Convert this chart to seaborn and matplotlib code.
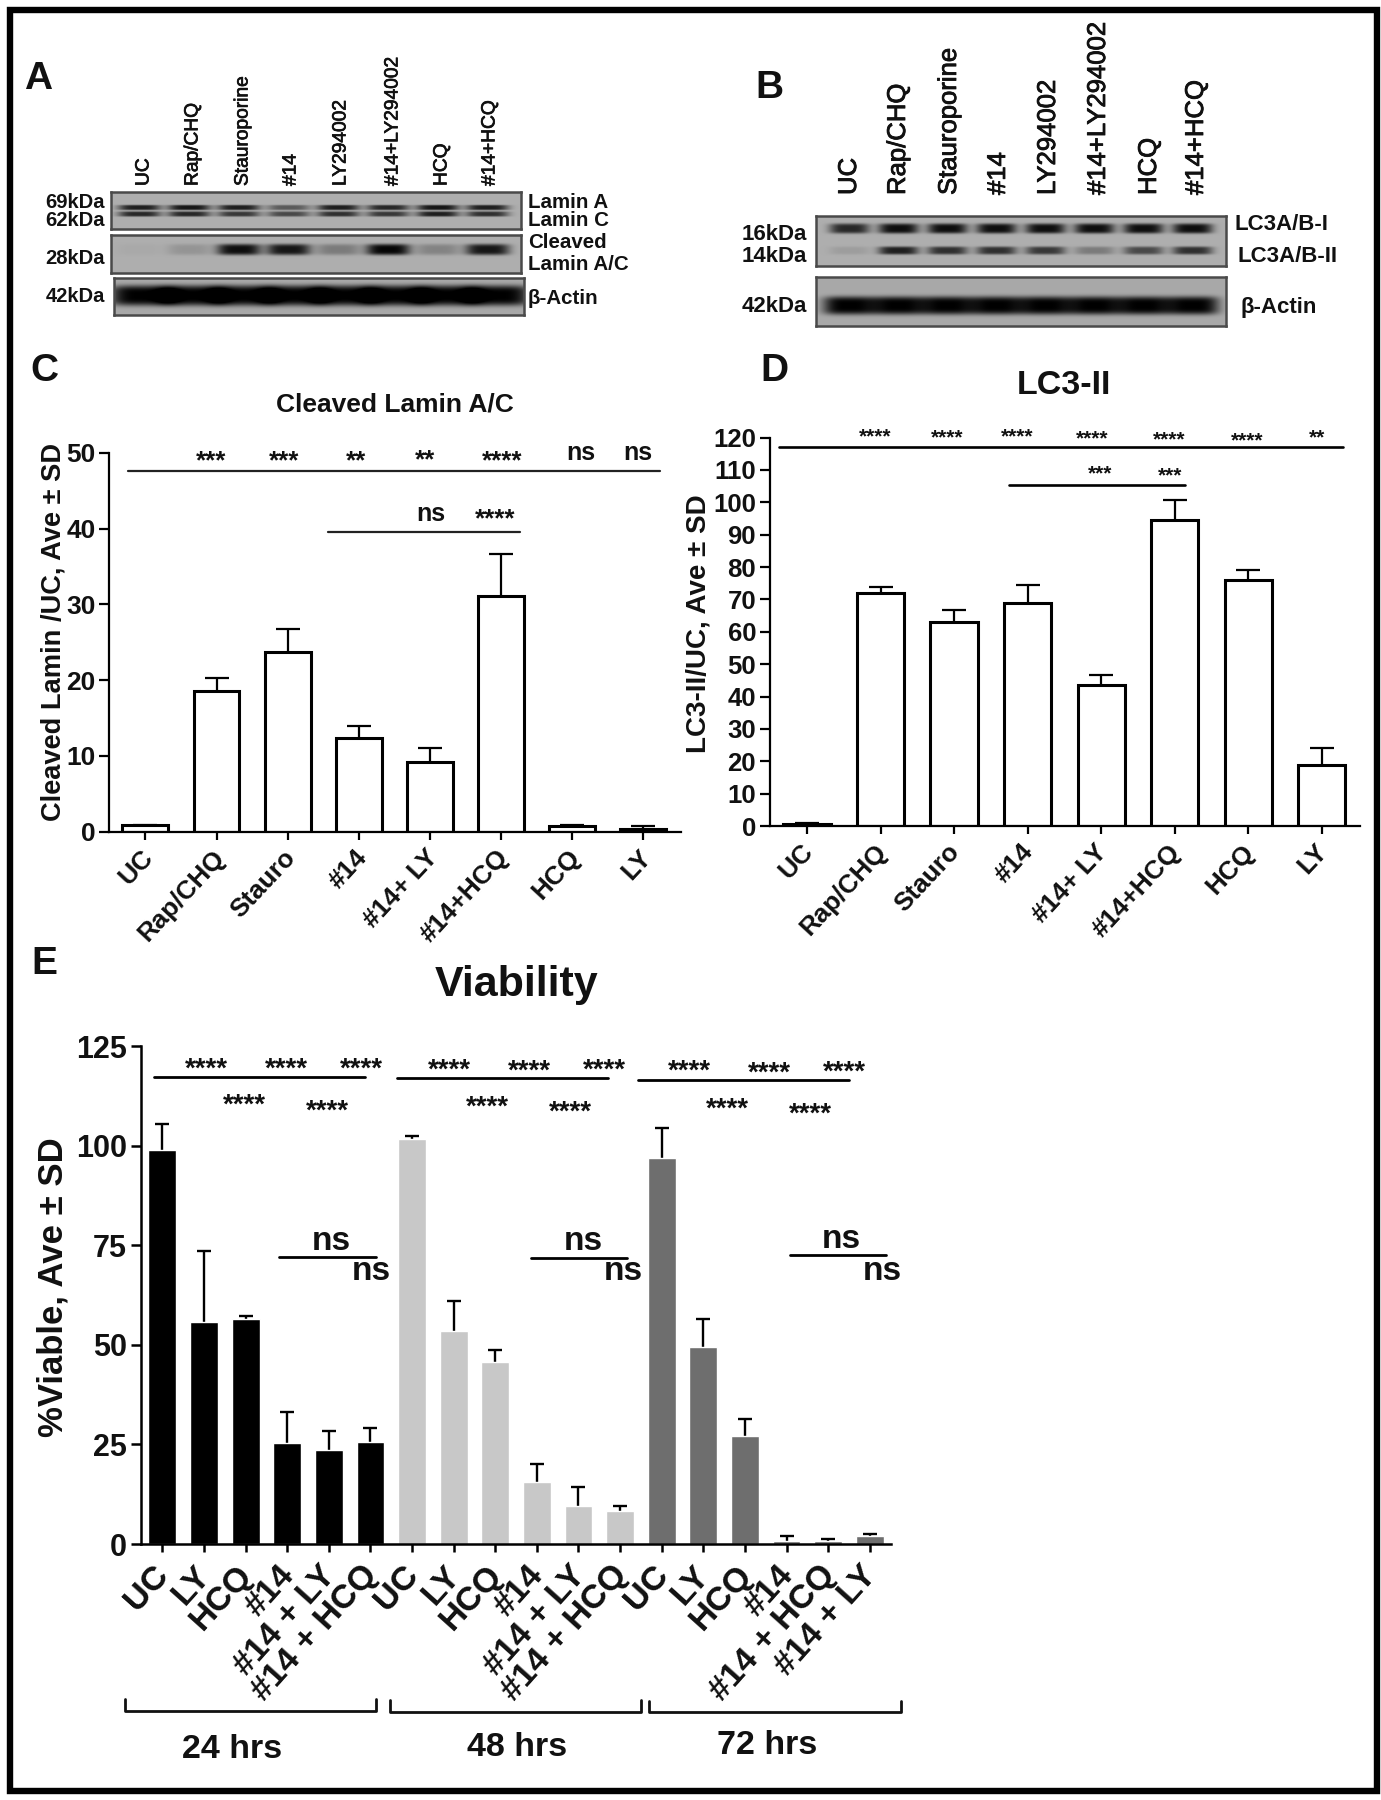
import numpy as np
import pandas as pd
import seaborn as sns
import matplotlib.pyplot as plt
import matplotlib.patheffects as pe
from matplotlib.patches import Rectangle
from matplotlib.transforms import ScaledTranslation

W, H = 1381, 1800

# panel C
cl_labels = ['UC', 'Rap/CHQ', 'Stauro', '#14', '#14+ LY', '#14+HCQ', 'HCQ', 'LY']
cl_mean = [0.9, 18.5, 23.7, 12.3, 9.2, 31.1, 0.7, 0.4]
cl_top = [0.9, 20.3, 26.8, 13.9, 11.0, 36.7, 0.9, 0.7]

# panel D
lc3_labels = ['UC', 'Rap/CHQ', 'Stauro', '#14', '#14+ LY', '#14+HCQ', 'HCQ', 'LY']
lc3_mean = [0.7, 72, 63, 69, 43.5, 94.5, 76, 19]
lc3_top = [0.9, 73.8, 66.8, 74.5, 46.8, 100.8, 79.2, 24]

# panel E
via_labels = ['UC', 'LY', 'HCQ', '#14', '#14 + LY', '#14 + HCQ',
              'UC', 'LY', 'HCQ', '#14', '#14 + LY', '#14 + HCQ',
              'UC', 'LY', 'HCQ', '#14', '#14 + HCQ', '#14 + LY']
via_group = ['24 hrs'] * 6 + ['48 hrs'] * 6 + ['72 hrs'] * 6
via_mean = [99, 55.7, 56.4, 25.3, 23.6, 25.5,
            101.7, 53.5, 45.7, 15.6, 9.5, 8.4,
            97, 49.5, 27, 0.8, 0.7, 1.9]
via_top = [105.3, 73.5, 57.2, 33.2, 28.3, 29.2,
           102.4, 61, 48.7, 20.2, 14.4, 9.6,
           104.5, 56.5, 31.5, 2.1, 1.3, 2.6]

# blot band darkness per lane, 0 = nothing, 1 = black
lamin_a = [0.85, 0.9, 0.85, 0.5, 0.85, 0.8, 0.9, 0.85]
lamin_c = [0.8, 0.8, 0.7, 0.6, 0.75, 0.7, 0.85, 0.75]
cleaved = [0.03, 0.15, 0.95, 0.9, 0.3, 1.0, 0.25, 0.9]
actin_a = [1, 1, 1, 1, 1, 1, 1, 1]
lc3_i = [0.8, 0.95, 0.95, 0.95, 0.95, 0.95, 0.95, 0.95]
lc3_ii = [0.1, 0.85, 0.75, 0.75, 0.7, 0.3, 0.6, 0.75]
actin_b = [1, 1, 1, 1, 1, 1, 1, 1]

blot_a_lanes = ['UC', 'Rap/CHQ', 'Stauroporine', '#14', 'LY294002', '#14+LY294002', 'HCQ', '#14+HCQ']

sns.set_theme(style='ticks')
plt.rcParams['font.family'] = ['Liberation Sans', 'DejaVu Sans']
plt.rcParams['font.weight'] = 'bold'
plt.rcParams['axes.labelweight'] = 'bold'

fig = plt.figure(figsize=(W / 100, H / 100), dpi=100, facecolor='white')


def px_ax(x0, y0, x1, y1):
    return fig.add_axes([x0 / W, 1 - y1 / H, (x1 - x0) / W, (y1 - y0) / H])


def blot(x0, y0, x1, y1, lanes, bands, half_w, back=0.68):
    # bands: (row y in px, darkness per lane, half height)
    ys, xs = np.mgrid[y0:y1, x0:x1]
    grid = np.full(xs.shape, back, dtype=float)
    for row_y, dark, half_h in bands:
        for cx, d in zip(lanes, dark):
            shape = np.exp(-((xs - cx) / half_w) ** 4 - ((ys - row_y) / half_h) ** 4)
            grid -= shape * d * 0.66
    ax = px_ax(x0, y0, x1, y1)
    sns.heatmap(np.clip(grid, 0, 1), cmap='gray', vmin=0, vmax=1, cbar=False,
                xticklabels=False, yticklabels=False, ax=ax)
    for s in ax.spines.values():
        s.set_visible(True)
        s.set_color('#4a4a4a')
        s.set_linewidth(1.8)
    return ax


def upper_err(ax, means, tops, cap, lw):
    low = np.zeros(len(means))
    high = np.array(tops) - np.array(means)
    eb = ax.errorbar(range(len(means)), means, yerr=[low, high], fmt='none',
                     ecolor='black', elinewidth=lw, capsize=cap, capthick=lw, zorder=1)
    eb[1][0].remove()


def style_axes(ax, labels, xlim, ylim, yticks, tick_fs, label_fs, rot, shift, lw=1.6):
    ax.set_xlim(*xlim)
    ax.set_ylim(*ylim)
    ax.set_yticks(yticks)
    ax.set_xticks(range(len(labels)))
    ax.set_xticklabels(labels, rotation=rot, ha='right', rotation_mode='anchor', fontsize=label_fs)
    ax.tick_params(axis='y', labelsize=tick_fs, width=lw, length=7, pad=3, color='black')
    ax.tick_params(axis='x', width=lw, length=6, pad=6, color='black')
    ax.set_xlabel('')
    ax.set_ylabel('')
    sns.despine(ax=ax)
    for s in ['left', 'bottom']:
        ax.spines[s].set_linewidth(lw)
        ax.spines[s].set_color('black')
    for t in ax.get_xticklabels() + ax.get_yticklabels():
        t.set_color('#111111')
        t.set_fontweight('bold')
    # labels in the figure sit a bit left of their ticks
    off = ScaledTranslation(shift[0] / 100, shift[1] / 100, fig.dpi_scale_trans)
    for t in ax.get_xticklabels():
        t.set_transform(t.get_transform() + off)


# blots A
lanes_a = np.linspace(139, 487, 8)
blot(111, 192, 521, 229, lanes_a, [(207, lamin_a, 2.6), (213.5, lamin_c, 2.6)], 21)
blot(111, 235, 521, 273, lanes_a, [(249, cleaved, 5.5)], 22)
blot(114, 278, 524, 315, np.linspace(142, 497, 8), [(295, actin_a, 10)], 32, back=0.66)

# blots B
lanes_b = np.linspace(849, 1192, 8)
blot(816, 216, 1226, 266, lanes_b, [(228, lc3_i, 5), (250, lc3_ii, 4)], 20)
blot(816, 277, 1226, 326, lanes_b, [(305, actin_b, 9)], 26, back=0.66)

# panel C
ax_c = px_ax(109.4, 452.8, 681, 831.6)
sns.barplot(x=cl_labels, y=cl_mean, color='white', edgecolor='black', linewidth=2.2,
            width=0.645, saturation=1, errorbar=None, ax=ax_c, zorder=2)
upper_err(ax_c, cl_mean, cl_top, 8.3, 1.6)
style_axes(ax_c, cl_labels, (-0.506, 7.53), (0, 50), range(0, 51, 10), 19, 18.8, 47, (-5, 3))
ax_c.plot([-0.24, 7.24], [47.66, 47.66], color='#222222', lw=1.6, clip_on=False)
ax_c.plot([2.57, 5.27], [39.6, 39.6], color='#222222', lw=1.6, clip_on=False)

# panel D
ax_d = px_ax(770, 437.6, 1360, 826)
sns.barplot(x=lc3_labels, y=lc3_mean, color='white', edgecolor='black', linewidth=2.2,
            width=0.643, saturation=1, errorbar=None, ax=ax_d, zorder=2)
upper_err(ax_d, lc3_mean, lc3_top, 8.7, 1.6)
style_axes(ax_d, lc3_labels, (-0.503, 7.52), (0, 120), range(0, 121, 10), 18.5, 18.8, 47, (-7, 3))
ax_d.plot([-0.38, 7.29], [117, 117], color='black', lw=1.9, clip_on=False)
ax_d.plot([2.75, 5.14], [105.5, 105.5], color='black', lw=1.9, clip_on=False)

# panel E
ax_e = px_ax(141, 1046, 891, 1544)
df = pd.DataFrame({'pos': range(18), 'viable': via_mean, 'time': via_group})
sns.barplot(data=df, x='pos', y='viable', hue='time', palette=['#000000', '#c8c8c8', '#6e6e6e'],
            dodge=False, width=0.67, saturation=1, errorbar=None, legend=False, ax=ax_e, zorder=2)
upper_err(ax_e, via_mean, via_top, 4.7, 1.7)
style_axes(ax_e, via_labels, (-0.514, 17.51), (0, 125), range(0, 126, 25), 22, 24.5, 48, (-10, 1), lw=1.8)
for a, b, y in [(-0.19, 4.88, 117.3), (5.64, 10.71, 117), (11.42, 16.49, 116.5),
                (2.8, 5.13, 72.1), (8.86, 11.17, 71.9), (15.09, 17.4, 72.5)]:
    ax_e.plot([a, b], [y, y], color='black', lw=2, clip_on=False)

# everything drawn in picture pixels goes on one overlay
ov = fig.add_axes([0, 0, 1, 1], facecolor='none', zorder=10)
ov.set_xlim(0, W)
ov.set_ylim(H, 0)
ov.axis('off')
ov.add_patch(Rectangle((10, 9.5), 1367, 1781.5, fill=False, ec='black', lw=4.6))


def txt(x, y, s, fs, ha='center', va='center', rot=0, weight='bold', color='#111111', heavy=0):
    t = ov.text(x, y, s, fontsize=fs, ha=ha, va=va, rotation=rot, fontweight=weight, color=color)
    if heavy:
        t.set_path_effects([pe.withStroke(linewidth=heavy, foreground=color)])


def stars(x, y, s, fs):
    # asterisks sit high in the font, so place by baseline
    ov.text(x, y + 0.41 * fs / 0.72, s, fontsize=fs, ha='center', va='baseline',
            fontweight='bold', color='#111111')


for s, x, y in [('A', 38, 79), ('B', 769, 88), ('C', 44, 371), ('D', 774, 371), ('E', 44, 964)]:
    txt(x, y, s, 28)

# blot A text
for s, x in zip(blot_a_lanes, [144, 193, 243, 291, 341, 393, 442, 490]):
    txt(x, 186, s, 13.8, va='bottom', rot=90, weight='normal', heavy=0.5)
for s, y in [('69kDa', 202), ('62kDa', 221), ('28kDa', 258), ('42kDa', 296)]:
    txt(105, y, s, 14.5, ha='right')
for s, y in [('Lamin A', 202), ('Lamin C', 221), ('Cleaved', 243), ('Lamin A/C', 265), ('β-Actin', 298)]:
    txt(528, y, s, 14.8, ha='left')

# blot B text
for s, x in zip(blot_a_lanes, [849, 898, 949, 998, 1048, 1098, 1149, 1196]):
    txt(x, 195, s, 18.5, va='bottom', rot=90, weight='normal', heavy=0.6)
for s, y in [('16kDa', 234), ('14kDa', 256), ('42kDa', 307)]:
    txt(807, y, s, 16, ha='right')
txt(1235, 224, 'LC3A/B-I', 16, ha='left')
txt(1238, 256, 'LC3A/B-II', 16, ha='left')
txt(1241, 307, 'β-Actin', 16, ha='left')

# titles and y labels
txt(395, 404, 'Cleaved Lamin A/C', 19)
txt(1064, 385, 'LC3-II', 24.5)
txt(517, 985, 'Viability', 31)
txt(54, 632, 'Cleaved Lamin /UC, Ave ± SD', 19.6, rot=90)
txt(699, 624, 'LC3-II/UC, Ave ± SD', 20, rot=90)
txt(53.5, 1287, '%Viable, Ave ± SD', 25, rot=90)

# panel C marks
for x, y, s in [(211, 458, '***'), (284, 458, '***'), (356, 458, '**'), (425, 457, '**'),
                (502, 458, '****'), (495.5, 516, '****')]:
    stars(x, y, s, 18.5)
for x, y in [(581, 453), (637.5, 453), (431, 514)]:
    txt(x, y, 'ns', 18)

# panel D marks
for x, y, s in [(875.5, 434, '****'), (947.6, 435, '****'), (1017.4, 434, '****'), (1092, 436, '****'),
                (1169.6, 437, '****'), (1246.7, 437.6, '****'), (1317.4, 435, '**'),
                (1100, 471.3, '***'), (1170.5, 472.6, '***')]:
    stars(x, y, s, 15)

# panel E marks
for x, y in [(206, 1065), (286, 1065), (361, 1065), (244, 1101), (327, 1107),
             (449, 1066), (529, 1067), (604, 1066), (487, 1103), (570, 1108),
             (689, 1067), (769, 1069), (844, 1068), (727, 1105), (810, 1110)]:
    stars(x, y, '****', 20)
for x, y in [(331.5, 1242), (371.5, 1272), (583, 1242), (623, 1272), (841, 1240), (882, 1271)]:
    txt(x, y, 'ns', 24)

# time brackets
for x0, x1, y0, y1, s, tx, ty in [(125.5, 376.4, 1699, 1711, '24 hrs', 232, 1750),
                                  (390.3, 641, 1700, 1712, '48 hrs', 517, 1747),
                                  (649, 900.6, 1700.5, 1712, '72 hrs', 767, 1746)]:
    ov.plot([x0, x0, x1, x1], [y0, y1, y1, y0], color='#111111', lw=2)
    txt(tx, ty, s, 24.5)

fig.savefig('out.png', dpi=100)
